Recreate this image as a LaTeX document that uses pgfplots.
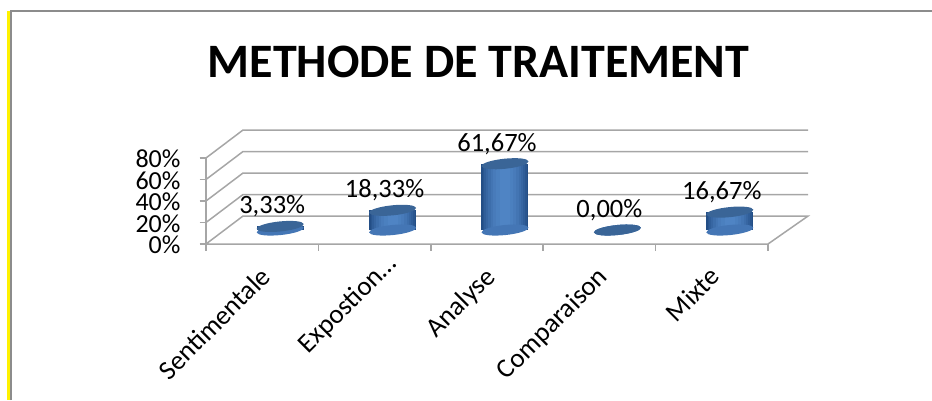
\documentclass[border=0pt]{standalone}
\usepackage{pgfplots}
\usepackage{pgfplotstable}
\usepackage{fontspec}
\setmainfont{Carlito}
\pgfplotsset{compat=1.18}
\definecolor{cylD}{HTML}{234E86}
\definecolor{cylL}{HTML}{4F84C4}
\definecolor{capC}{HTML}{3A6597}
\definecolor{gridC}{HTML}{A6A6A6}
\pgfdeclareplotmark{captop}{%
  \pgfpathellipse{\pgfpoint{18bp}{0bp}}{\pgfpoint{23.5bp}{2.4bp}}{\pgfpoint{-0.6bp}{5bp}}%
  \pgfsetfillcolor{capC}\pgfusepath{fill}}
\pgfdeclareplotmark{capbot}{%
  \pgfpathellipse{\pgfpoint{18bp}{0bp}}{\pgfpoint{23.5bp}{2.4bp}}{\pgfpoint{-0.6bp}{5bp}}%
  \pgfsetfillcolor{cylD!25!cylL}\pgfusepath{fill}}
\pgfplotstableread{
x v
0 3.33
1 18.33
2 61.67
3 0.00
4 16.67
}\datatable
% one layer of a cylinder's body: a band of the given width and shade,
% standing on the floor's mid depth (13) and as tall as the value
\newcommand{\cylband}[2]{%
  \addplot[draw=none,mark=none,forget plot,
    error bars/.cd,y dir=plus,y explicit,error mark=none,
    error bar style={line width=#1bp,color=cylL!#2!cylD}]
    table[x expr=\thisrow{x}+0.16,y expr=13,y error=v]{\datatable};}
\begin{document}
\begin{tikzpicture}[x=1bp,y=1bp]
\path[use as bounding box] (0,0) rectangle (932,400);
\fill[yellow] (7,0) rectangle (10.5,389);
\draw[color=gray!90,line width=2bp] (11,0) -- (11,389) -- (932,389);
\node[font=\bfseries\fontsize{48bp}{52bp}\selectfont,anchor=center] at (478.5,338) {METHODE DE TRAITEMENT};
\begin{axis}[
  at={(206bp,156bp)},anchor=south west,scale only axis,
  width=562bp,height=86bp,
  xmin=-0.5,xmax=4.5,ymin=0,ymax=80,clip=false,
  axis line style={draw=none},
  xtick={0,1,2,3,4},
  xticklabels={Sentimentale,Expostion\rlap{…},Analyse,Comparaison,Mixte},
  minor xtick={-0.5,0.5,1.5,2.5,3.5,4.5},
  ytick={0,20,40,60,80},
  minor ytick={0,20,40,60,80},
  yticklabel={\pgfmathprintnumber{\tick}\%},
  /pgf/number format/assume math mode=true,
  tick align=outside,
  tick pos=left,
  major tick length=0pt,
  minor tick length=6.5bp,
  every minor tick/.style={draw=gridC,line width=1.5bp},
  y tick label style={font=\fontsize{26bp}{28bp}\selectfont,anchor=east,xshift=-22bp,yshift=-1bp},
  x tick label style={font=\fontsize{27bp}{29bp}\selectfont,rotate=45,anchor=north east,xshift=-14bp,yshift=-9bp},
]
\draw[gridC,line width=1.5bp] (axis cs:-0.5,0) -- (axis cs:4.5,0) -- (axis cs:4.856,26) -- (axis cs:-0.171,26) -- cycle;
\draw[gridC,line width=1.5bp] (axis cs:-0.5,0) -- (axis cs:-0.5,80);
\foreach \v in {20,40,60,80}{
  \edef\tmp{\noexpand\draw[gridC,line width=1.5bp] (axis cs:-0.5,\v) -- (axis cs:-0.171,\v+26) -- (axis cs:4.856,\v+26);}\tmp
}
\addplot[only marks,mark=capbot,forget plot] table[x=x,y expr=13]{\datatable};
\cylband{47}{0}
\cylband{44}{15}
\cylband{41}{30}
\cylband{37}{45}
\cylband{33}{60}
\cylband{28}{72}
\cylband{23}{84}
\cylband{17}{92}
\cylband{10}{100}
\addplot[only marks,mark=captop,
  point meta=explicit,
  nodes near coords={\pgfmathprintnumber[assume math mode=true,fixed,fixed zerofill,precision=2,use comma]{\pgfplotspointmeta}\%},
  every node near coord/.append style={font=\fontsize{26.5bp}{28bp}\selectfont,anchor=center,text=black,yshift=20bp,xshift=10bp},
] table[x=x,y expr=\thisrow{v}+13,meta=v]{\datatable};
\end{axis}
\end{tikzpicture}
\end{document}
